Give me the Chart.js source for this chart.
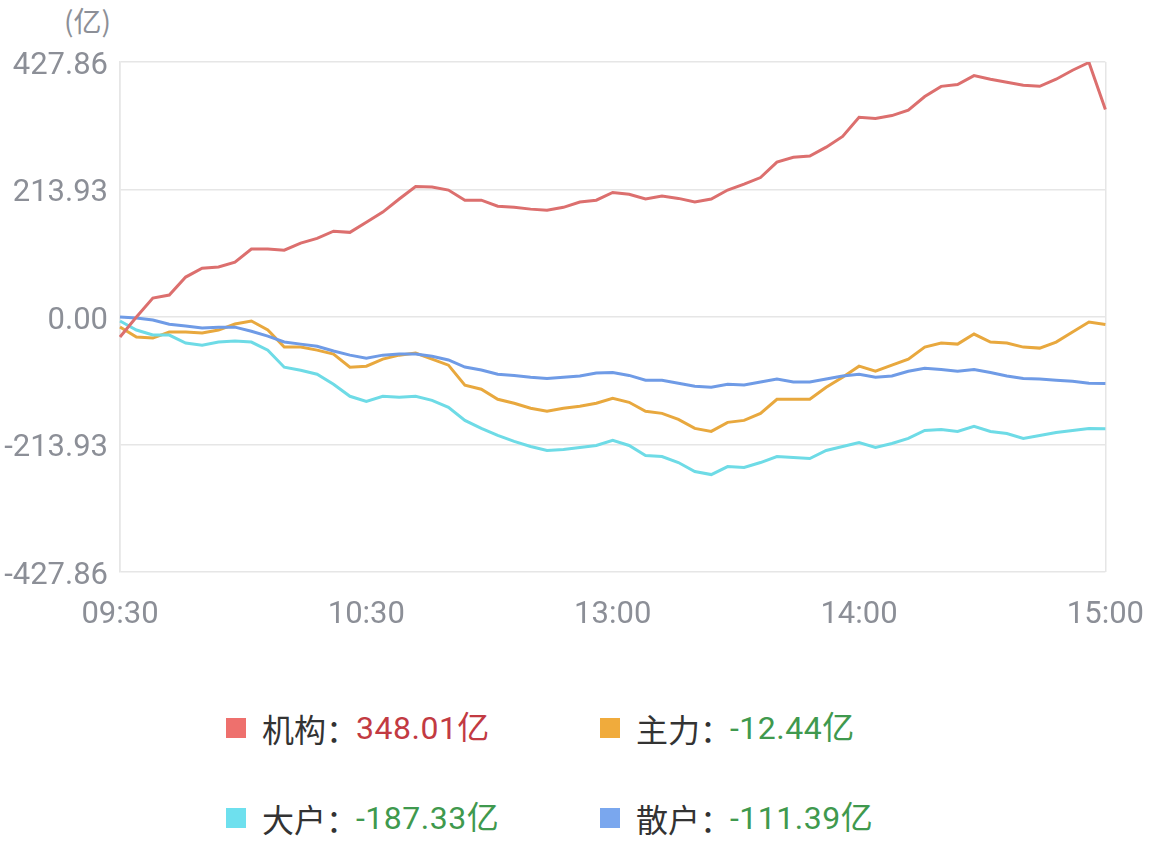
<!DOCTYPE html>
<html>
<head>
<meta charset="utf-8">
<script src="https://cdn.jsdelivr.net/npm/chart.js@4/dist/chart.umd.min.js"></script>
<style>
  html, body { margin: 0; padding: 0; background: #fff; }
  body { width: 1169px; height: 867px; position: relative; overflow: hidden;
         font-family: Roboto, "Noto Sans CJK SC", sans-serif; }
  #wrap { position: absolute; left: 0; top: 0; width: 1169px; height: 660px; }
  #unit { position: absolute; left: 64px; top: 0px; font-size: 28px; color: #8c8f97;
          font-family: "Noto Sans CJK SC", sans-serif; }
  .item { position: absolute; font-size: 32px; line-height: 36px; color: #333; }
  .item .sw { position: absolute; width: 20px; height: 20px; top: 8px; }
  .item .nm { position: absolute; white-space: nowrap; font-family: "Noto Sans CJK SC", sans-serif; }
  .item .val { position: absolute; white-space: nowrap; letter-spacing: 0.5px; }
</style>
</head>
<body>
<div id="unit">(亿)</div>
<div id="wrap"><canvas id="chart" width="1169" height="660"></canvas></div>
<div id="legend"></div>
<script>
// value axis range and tick labels
const yMax = 427.86;
const yTicks = [-427.86, -213.93, 0, 213.93, 427.86];
const xTickLabels = ['09:30', '10:30', '13:00', '14:00', '15:00'];

// categories: every 4 minutes, morning then afternoon session
const times = [];
function addSession(h, m, count) {
  for (let i = 0; i < count; i++) {
    const t = h * 60 + m + i * 4;
    times.push(String(Math.floor(t / 60)).padStart(2, '0') + ':' + String(t % 60).padStart(2, '0'));
  }
}
addSession(9, 30, 30);   // 09:30 .. 11:26
addSession(13, 0, 31);   // 13:00 .. 15:00

const names = ['机构', '主力', '大户', '散户'];
const colors = ['#dc6f6e', '#e8a83e', '#6edbe6', '#6f9be6'];
const swatches = ['#ee706d', '#f0ab3c', '#6ee0ee', '#7aa7ee'];

const jigou = [-33.5, 0, 31.8, 36.9, 67, 82, 83.8, 92, 114, 114, 112, 124, 132, 144, 142, 159, 176, 198, 219, 218,
  213, 196, 196, 186, 184, 181, 179, 184, 193, 196, 209, 206, 198, 203, 199, 193, 198, 213, 223, 234,
  260, 268, 270, 285, 303, 335, 333, 338, 347, 370, 387, 390, 405, 399, 394, 389, 387, 399, 414, 427, 348.01];
const zhuli = [-16.8, -33.7, -35.4, -25.3, -25.3, -26.9, -21.9, -11.8, -6.7, -21.9, -50.5, -50.5, -55.6, -62.3, -84.2, -82.5, -70.7, -64, -60.6, -70.7,
  -80.8, -114.5, -121.2, -138.1, -144.8, -153.2, -158.3, -153.2, -149.9, -144.8, -136.4, -143.1, -158.3, -161.7, -171.8, -186.9, -192, -176.8, -173.5, -161.7,
  -138.1, -138.1, -138.1, -117.9, -101, -82.5, -90.9, -80.8, -70.7, -50.5, -43.8, -45.5, -28.6, -42.1, -43.8, -50.5, -52.2, -42.1, -25.3, -8.4, -12.44];
const dahu = [-6.7, -21.9, -30.3, -30.3, -43.8, -47.2, -42.1, -40.4, -42.1, -55.6, -84.2, -89.3, -96, -112.8, -133, -141.5, -133, -134.7, -133, -139.8,
  -151.6, -173.5, -187, -198.7, -208.8, -217.3, -224, -222.3, -219, -215.6, -207.1, -215.6, -232.4, -234.1, -244.2, -259.3, -264.4, -250.9, -252.6, -244.2,
  -234.1, -235.8, -237.4, -224, -217.3, -210.5, -218.9, -212.2, -203.8, -190.3, -188.6, -192, -183.6, -192, -195.4, -203.8, -198.7, -193.7, -190.3, -186.9, -187.33];
const sanhu = [0, -1.7, -5, -12, -15, -18.5, -17, -17, -24, -32, -42, -45.5, -49, -57, -64, -69, -64, -62, -62, -66,
  -72, -84, -89, -96, -98, -101, -103, -101, -99, -94, -93, -98, -106, -106, -111, -116, -118, -113, -114, -109,
  -104, -109, -109, -104, -99, -96, -101, -99, -91, -86, -88, -91, -88, -93, -99, -103, -104, -106, -108, -111, -111.39];

const series = [jigou, zhuli, dahu, sanhu];
const lastIdx = times.length - 1;
const tickFont = { size: 31, family: 'Roboto, "Noto Sans CJK SC", sans-serif' };

const ctx = document.getElementById('chart').getContext('2d');
new Chart(ctx, {
  type: 'line',
  data: {
    labels: times,
    datasets: series.map((d, i) => ({
      label: names[i],
      data: d,
      borderColor: colors[i],
      borderWidth: 3,
      pointRadius: 0,
      tension: 0,
      fill: false,
      order: i === 0 ? 0 : 4 - i
    }))
  },
  options: {
    responsive: false,
    animation: false,
    layout: { padding: { top: 62, right: 61, left: 0, bottom: 0 } },
    plugins: { legend: { display: false }, tooltip: { enabled: false } },
    scales: {
      x: {
        grid: {
          drawTicks: false,
          color: c => (c.index === 0 || c.index === lastIdx) ? '#e6e6e6' : 'rgba(0,0,0,0)',
          lineWidth: 1.5
        },
        border: { display: false },
        ticks: {
          autoSkip: false,
          maxRotation: 0,
          padding: 25,
          color: '#8c8f97',
          font: tickFont,
          callback: function(v, i) {
            const l = this.getLabelForValue(v);
            if (i === 30) return '13:00';
            return (xTickLabels.includes(l) && i !== 29) ? l : '';
          }
        },
        afterFit: s => { s.height = 660 - 572; }
      },
      y: {
        min: -yMax,
        max: yMax,
        afterBuildTicks: s => { s.ticks = yTicks.map(v => ({ value: v })); },
        grid: { drawTicks: false, color: '#e6e6e6', lineWidth: 1.5 },
        border: { display: true, color: '#e6e6e6', width: 1.5 },
        ticks: {
          padding: 12,
          labelOffset: 4,
          color: '#8c8f97',
          font: tickFont,
          callback: v => Number(v).toFixed(2)
        },
        afterFit: s => { s.width = 120; }
      }
    }
  }
});

// legend built from the series, last value shown
const legend = document.getElementById('legend');
const slots = [[226, 710], [600, 710], [226, 800], [600, 800]];
series.forEach((d, i) => {
  const v = d[d.length - 1];
  const el = document.createElement('div');
  el.className = 'item';
  el.style.left = slots[i][0] + 'px';
  el.style.top = slots[i][1] + 'px';
  el.innerHTML = '<span class="sw" style="left:0;background:' + swatches[i] + '"></span>' +
    '<span class="nm" style="left:36px">' + names[i] + '：</span>' +
    '<span class="val" style="left:130px;color:' + (v >= 0 ? '#c23a42' : '#3f994e') + '">' +
    v.toFixed(2) + '亿</span>';
  legend.appendChild(el);
});
</script>
</body>
</html>
